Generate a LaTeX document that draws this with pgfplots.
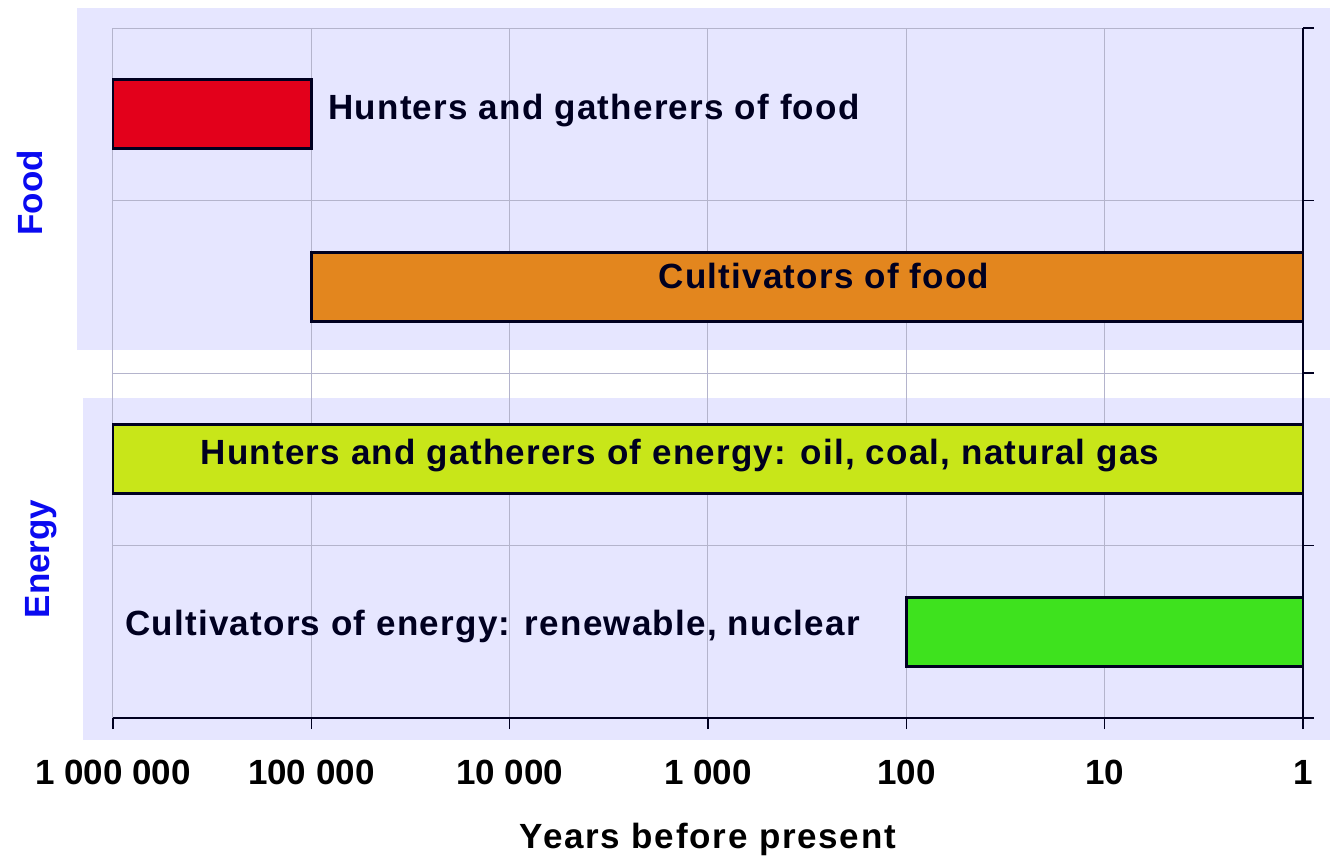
\documentclass[border=0pt]{standalone}
\usepackage{pgfplots}
\pgfplotsset{compat=1.18}
\usepackage{fontspec}
\setmainfont{Liberation Sans}

\definecolor{panel}{HTML}{E6E6FF}
\definecolor{gridc}{HTML}{B4B4CC}
\definecolor{ink}{HTML}{000020}
\definecolor{cRed}{HTML}{E3001B}
\definecolor{cOrange}{HTML}{E3861E}
\definecolor{cLime}{HTML}{C8E619}
\definecolor{cGreen}{HTML}{3EE21E}
\definecolor{lblue}{HTML}{0A0AF0}

\newcommand{\bigfont}{\fontsize{17.5}{20}\selectfont\bfseries}

\begin{document}
\begin{tikzpicture}
% shaded panels behind the two groups
\fill[panel] (-18pt,184pt) rectangle (608.5pt,355pt);
\fill[panel] (-15pt,-11pt) rectangle (608.5pt,160pt);

\begin{axis}[
    at={(0,0)}, anchor=south west,
    scale only axis,
    width=595pt, height=345pt,
    xmode=log, x dir=reverse,
    xmin=1, xmax=1000000,
    ymin=0, ymax=4,
    xtick={1,10,100,1000,10000,100000,1000000},
    xticklabels={1,10,100,1 000,10 000,100 000,1 000 000},
    ytick={0,1,2,3,4},
    yticklabels={},
    xminorticks=false,
    axis x line*=bottom, axis y line*=right,
    x axis line style={-, ink, line width=0.8pt},
    y axis line style={-, ink, line width=0.8pt},
    tick align=outside, major tick length=5.5pt,
    tick style={ink, line width=0.8pt},
    xmajorgrids, ymajorgrids,
    grid style={gridc, line width=0.5pt},
    xticklabel style={font=\bigfont, text=black, yshift=-12pt},
    xlabel={\addfontfeature{LetterSpace=5}Years before present},
    xlabel style={font=\bigfont, text=black, at={(0.5,0)}, anchor=base, yshift=-65pt},
    clip=false,
]
\addplot[fill=cRed, draw=ink, line width=1.4pt]
    coordinates {(1000000,3.3) (100000,3.3) (100000,3.7) (1000000,3.7)} -- cycle;
\addplot[fill=cOrange, draw=ink, line width=1.4pt]
    coordinates {(100000,2.3) (1,2.3) (1,2.7) (100000,2.7)} -- cycle;
\addplot[fill=cLime, draw=ink, line width=1.4pt]
    coordinates {(1000000,1.3) (1,1.3) (1,1.7) (1000000,1.7)} -- cycle;
\addplot[fill=cGreen, draw=ink, line width=1.4pt]
    coordinates {(100,0.3) (1,0.3) (1,0.7) (100,0.7)} -- cycle;
\end{axis}

% bar captions
\begin{scope}[every node/.style={font=\bigfont\addfontfeature{LetterSpace=3.5}, text=ink, inner sep=0pt}]
\node[anchor=base west] at (107.5pt,299pt) {Hunters and gatherers of food};
\node[anchor=base] at (355.5pt,214.5pt) {Cultivators of food};
\node[anchor=base] at (283.5pt,126.5pt) {Hunters and gatherers of energy: oil, coal, natural gas};
\node[anchor=base west] at (6pt,41.5pt) {Cultivators of energy: renewable, nuclear};
\end{scope}

% group labels
\node[font=\bigfont, text=lblue, rotate=90, anchor=base, inner sep=0pt] at (-35pt,262.5pt) {Food};
\node[font=\bigfont, text=lblue, rotate=90, anchor=base, inner sep=0pt] at (-31.5pt,79.5pt) {Energy};

\pgfresetboundingbox
\path[use as bounding box] (-56.5pt,-69pt) rectangle (609.5pt,359pt);
\end{tikzpicture}
\end{document}
